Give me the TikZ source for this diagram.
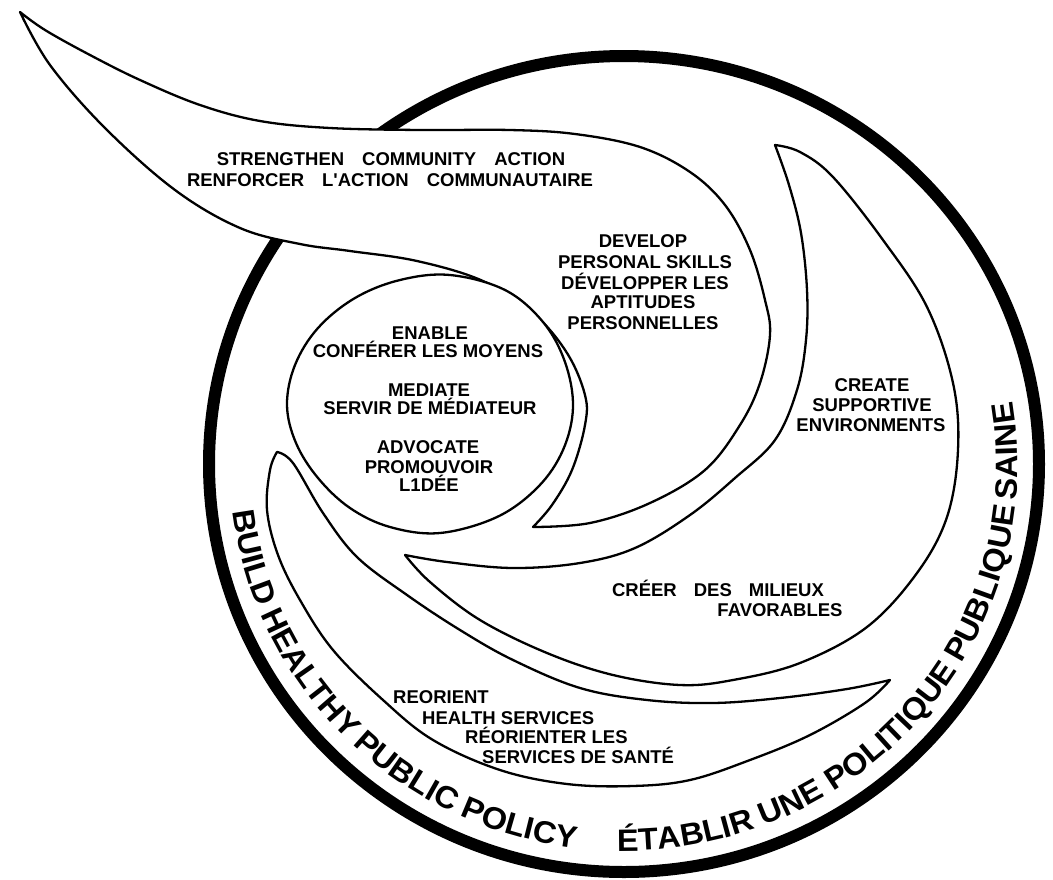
\documentclass[tikz,border=0pt]{standalone}
\usepackage{fontspec}
\newfontfamily\lfont{Liberation Sans}
\newfontfamily\cfontfam{Liberation Sans}[FakeStretch=1.05]
\usetikzlibrary{decorations.text}
\newcommand{\cfont}{\cfontfam\bfseries\fontsize{31}{31}\selectfont}
% one word set along the inner side of the ring, starting at screen angle #1
\newcommand{\arcword}[2]{%
  \path[shift={(624,464)}, decorate, decoration={text along path, text align=left,
    text={|\cfont|#2}}]
    (-#1:394 and 387) arc[start angle=-#1, end angle=-#1-45, x radius=394, y radius=387];}
\begin{document}
\begin{tikzpicture}[x=1pt,y=-1pt, line join=round,
  wing/.style={draw=black, line width=2.3pt, fill=white},
  ring/.style={draw=black, line width=12pt},
  lbl/.style={font=\lfont\bfseries\fontsize{18.5}{19}\selectfont, inner sep=0pt, anchor=base},
  lbll/.style={lbl, anchor=base west}]
\useasboundingbox (0,0) rectangle (1053,879);
\fill[white] (0,0) rectangle (1053,879);
% outer ring
\draw[ring] (624,464) ellipse [x radius=415, y radius=408];
% community action + personal skills wing
\draw[wing] plot[smooth, tension=0.6] coordinates {(20,12) (45,30) (90,55) (140,80) (200,105) (260,121) (330,128) (420,130) (510,130) (575,134) (640,147) (690,172) (725,205) (750,250) (765,300) (770,335) (760,383) (740,425) (705,470) (650,503) (590,523) (533,527)}
  -- plot[smooth, tension=0.6] coordinates {(533,527) (552,505) (572,470) (585,425) (585,395) (567,353) (533,313) (483,281) (417,261) (350,251) (300,244) (240,228) (175,190) (105,128) (50,65) (20,12)} -- cycle;
% central circle
\draw[wing] plot[smooth cycle, tension=0.6] coordinates {(450,275) (505,290) (543,322) (565,362) (573,407) (563,450) (538,487) (497,517) (440,533) (390,527) (350,508) (318,478) (296,443) (287,405) (295,365) (318,328) (355,298) (400,280)};
% supportive environments wing
\draw[wing] plot[smooth, tension=0.6] coordinates {(775,145) (800,152) (833,177) (883,240) (927,307) (953,383) (958,450) (947,517) (917,573) (867,627) (800,663) (733,680) (680,685) (613,675) (547,653) (480,620) (430,582) (405,555)}
  -- plot[smooth, tension=0.6] coordinates {(405,555) (447,562) (513,568) (580,563) (635,548) (690,515) (735,478) (775,440) (797,390) (806,340) (807,290) (801,233) (789,185) (775,145)} -- cycle;
% reorient health services wing
\draw[wing] plot[smooth, tension=0.6] coordinates {(277,452) (293,463) (323,513) (357,557) (407,595) (460,630) (513,660) (580,688) (647,700) (713,703) (780,698) (847,689) (890,680)}
  -- plot[smooth, tension=0.6] coordinates {(890,680) (865,703) (810,735) (750,760) (690,780) (633,786) (567,784) (500,770) (433,740) (383,700) (333,650) (300,600) (278,555) (267,510) (270,470) (277,452)} -- cycle;
% labels
\node[lbl] (sca1) at (391,165.6) {STRENGTHEN\hspace{18pt}COMMUNITY\hspace{18pt}ACTION};
\node[lbl] (sca2) at (390,186.6) {RENFORCER\hspace{18pt}L'ACTION\hspace{18pt}COMMUNAUTAIRE};
\node[lbl] (dps1) at (643,247.6) {DEVELOP};
\node[lbl] (dps2) at (645,268.6) {PERSONAL SKILLS};
\node[lbl] (dps3) at (645,289.6) {DÉVELOPPER LES};
\node[lbl] (dps4) at (643,308.6) {APTITUDES};
\node[lbl] (dps5) at (643,329.6) {PERSONNELLES};
\node[lbl] (en1) at (430,339.6) {ENABLE};
\node[lbl] (en2) at (428,357.6) {CONFÉRER LES MOYENS};
\node[lbl] (me1) at (429,396.6) {MEDIATE};
\node[lbl] (me2) at (430,414.6) {SERVIR DE MÉDIATEUR};
\node[lbl] (ad1) at (428,453.6) {ADVOCATE};
\node[lbl] (ad2) at (429,473.6) {PROMOUVOIR};
\node[lbl] (ad3) at (429,491.6) {L1DÉE};
\node[lbl] (cse1) at (872,391.6) {CREATE};
\node[lbl] (cse2) at (872,411.6) {SUPPORTIVE};
\node[lbl] (cse3) at (871,431.6) {ENVIRONMENTS};
\node[lbl] (cmf1) at (718,596.6) {CRÉER\hspace{17pt}DES\hspace{17pt}MILIEUX};
\node[lbl] (cmf2) at (780,616.6) {FAVORABLES};
\node[lbll] (rhs1) at (393,703.6) {REORIENT};
\node[lbll] (rhs2) at (422,724.6) {HEALTH SERVICES};
\node[lbll] (rhs3) at (465,743.6) {RÉORIENTER LES};
\node[lbll] (rhs4) at (482,763.6) {SERVICES DE SANTÉ};
% curved texts, word by word
\arcword{187}{BUILD}
\arcword{202.8}{HEALTHY}
\arcword{226.4}{PUBLIC}
\arcword{245.3}{POLICY}
\arcword{269}{ÉTABLIR}
\arcword{290.8}{UNE}
\arcword{302.1}{POLITIQUE}
\arcword{328.9}{PUBLIQUE}
\arcword{354.6}{SAINE}
\end{tikzpicture}
\end{document}
